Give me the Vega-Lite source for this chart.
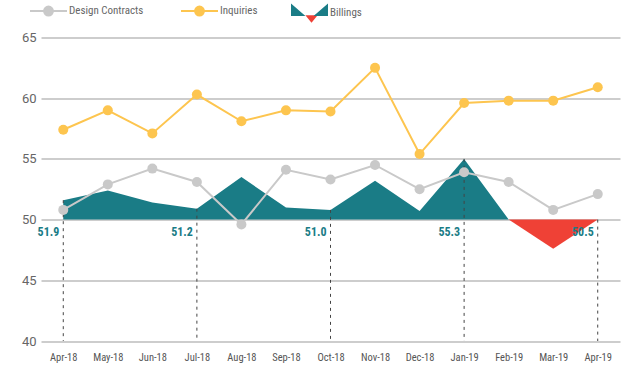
{
  "$schema": "https://vega.github.io/schema/vega-lite/v6.json",
  "width": 579,
  "height": 303.5,
  "autosize": "none",
  "padding": {"left": 41, "top": 37.5, "right": 20, "bottom": 30},
  "background": "white",
  "config": {
    "view": {"stroke": null},
    "font": "Roboto"
  },
  "data": {
    "values": [
      {"month": "Apr-18", "Design Contracts": 50.8, "Inquiries": 57.4, "bill": 51.6, "lbl": "51.9"},
      {"month": "May-18", "Design Contracts": 52.9, "Inquiries": 59.0, "bill": 52.4, "lbl": null},
      {"month": "Jun-18", "Design Contracts": 54.2, "Inquiries": 57.1, "bill": 51.4, "lbl": null},
      {"month": "Jul-18", "Design Contracts": 53.1, "Inquiries": 60.3, "bill": 50.9, "lbl": "51.2"},
      {"month": "Aug-18", "Design Contracts": 49.6, "Inquiries": 58.1, "bill": 53.5, "lbl": null},
      {"month": "Sep-18", "Design Contracts": 54.1, "Inquiries": 59.0, "bill": 51.0, "lbl": null},
      {"month": "Oct-18", "Design Contracts": 53.3, "Inquiries": 58.9, "bill": 50.8, "lbl": "51.0"},
      {"month": "Nov-18", "Design Contracts": 54.5, "Inquiries": 62.5, "bill": 53.2, "lbl": null},
      {"month": "Dec-18", "Design Contracts": 52.5, "Inquiries": 55.4, "bill": 50.7, "lbl": null},
      {"month": "Jan-19", "Design Contracts": 53.9, "Inquiries": 59.6, "bill": 55.0, "lbl": "55.3"},
      {"month": "Feb-19", "Design Contracts": 53.1, "Inquiries": 59.8, "bill": 50.0, "lbl": null},
      {"month": "Mar-19", "Design Contracts": 50.8, "Inquiries": 59.8, "bill": 47.6, "lbl": null},
      {"month": "Apr-19", "Design Contracts": 52.1, "Inquiries": 60.9, "bill": 50.0, "lbl": "50.5"}
    ]
  },
  "encoding": {
    "x": {
      "field": "month",
      "type": "nominal",
      "scale": {"type": "point", "padding": 0.5, "domain": ["Apr-18","May-18","Jun-18","Jul-18","Aug-18","Sep-18","Oct-18","Nov-18","Dec-18","Jan-19","Feb-19","Mar-19","Apr-19"]},
      "axis": {"title": null, "domain": false, "ticks": false, "labelAngle": 0, "labelPadding": 11, "labelFontSize": 10.5, "labelColor": "#555555", "labelFont": "Liberation Sans Narrow, Roboto Condensed, Roboto", "grid": false}
    }
  },
  "layer": [
    {
      "mark": {"type": "area", "color": "#1a7c86", "opacity": 1},
      "transform": [{"filter": "datum.bill >= 50"}],
      "encoding": {
        "y": {
          "field": "bill", "type": "quantitative",
          "scale": {"domain": [40, 65], "nice": false, "zero": false},
          "axis": {"title": null, "values": [40, 45, 50, 55, 60, 65], "domain": false, "ticks": false, "labelPadding": 5, "labelFontSize": 13, "labelColor": "#666666", "gridColor": "#bdbdbd", "gridWidth": 1.5, "gridOpacity": 1}
        },
        "y2": {"datum": 50}
      }
    },
    {
      "mark": {"type": "area", "opacity": 1},
      "transform": [{"filter": "datum.bill <= 50"}],
      "encoding": {
        "y": {"field": "bill", "type": "quantitative"},
        "y2": {"datum": 50},
        "fill": {
          "datum": "Billings", "type": "nominal",
          "scale": {"domain": ["Billings"], "range": ["#ef4136"]},
          "legend": {
            "title": null,
            "orient": "none",
            "legendX": 252,
            "legendY": -44,
            "padding": 0,
            "labelExpr": "''",
            "labelOffset": 0,
            "symbolType": "M-0.33,0.17 L0.33,0.17 L0,0.58 Z",
            "symbolSize": 1369,
            "symbolFillColor": "#ef4136",
            "symbolStrokeWidth": 0,
            "symbolOpacity": 1
          }
        }
      }
    },
    {
      "mark": {"type": "rule", "color": "#444444", "strokeWidth": 1, "strokeDash": [3, 4]},
      "transform": [{"filter": "isValid(datum.lbl)"}],
      "encoding": {
        "y": {"field": "bill", "type": "quantitative"},
        "y2": {"datum": 40}
      }
    },
    {
      "transform": [{"fold": ["Design Contracts", "Inquiries"], "as": ["series", "value"]}],
      "mark": {"type": "line", "strokeWidth": 2, "point": {"filled": true, "size": 100, "opacity": 1}},
      "encoding": {
        "y": {"field": "value", "type": "quantitative"},
        "color": {
          "field": "series", "type": "nominal",
          "scale": {"domain": ["Design Contracts", "Inquiries", "Billings"], "range": ["#c9c9c9", "#fdc54f", "#1a7c86"]},
          "legend": {
            "title": null,
            "orient": "none",
            "direction": "horizontal",
            "legendX": -11,
            "legendY": -32,
            "padding": 0,
            "columnPadding": 33,
            "labelOffset": 28,
            "labelFontSize": 11,
            "labelColor": "#666666",
            "labelFont": "Liberation Sans Narrow, Roboto Condensed, Roboto",
            "symbolSize": 100,
            "symbolStrokeWidth": 2,
            "encode": {
              "symbols": {
                "update": {
                  "size": {"value": 1369},
                  "x": {"value": 18.5},
                  "shape": {"signal": "datum.value === 'Billings' ? 'M-1,-0.5 L-1,0.17 L-0.22,0.17 Z M1,-0.5 L1,0.17 L0.22,0.17 Z' : 'M-1,0 L1,0 M-0.24,0 A0.24,0.24 0 1,1 0.24,0 A0.24,0.24 0 1,1 -0.24,0 Z'"},
                  "fill": {"signal": "datum.value === 'Billings' ? '#1a7c86' : datum.value === 'Inquiries' ? '#fdc54f' : '#c9c9c9'"},
                  "stroke": {"signal": "datum.value === 'Billings' ? '#1a7c86' : datum.value === 'Inquiries' ? '#fdc54f' : '#c9c9c9'"},
                  "strokeWidth": {"signal": "datum.value === 'Billings' ? 0 : 2"},
                  "opacity": {"value": 1}
                }
              }
            }
          }
        }
      }
    },
    {
      "mark": {"type": "text", "align": "right", "baseline": "middle", "dx": -4, "dy": 12, "fontWeight": "bold", "fontSize": 12, "color": "#1a7c86", "font": "Liberation Sans Narrow, Roboto Condensed, Roboto"},
      "transform": [{"filter": "isValid(datum.lbl)"}],
      "encoding": {
        "y": {"datum": 50},
        "text": {"field": "lbl"}
      }
    }
  ]
}
